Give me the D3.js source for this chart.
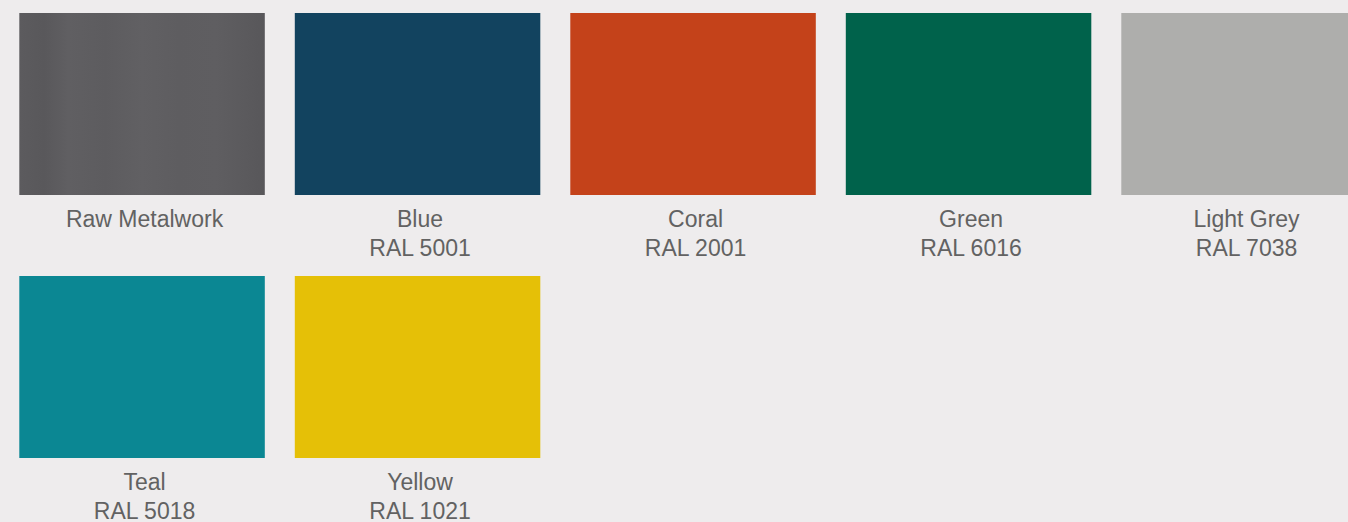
<!DOCTYPE html>
<html>
<head>
<meta charset="utf-8">
<script src="https://cdn.jsdelivr.net/npm/d3@7"></script>
<style>
  html, body { margin: 0; padding: 0; background: #eeeced; overflow: hidden; }
</style>
</head>
<body>
<div id="chart"></div>
<script>
'use strict';

var names = ['Raw Metalwork', 'Blue', 'Coral', 'Green', 'Light Grey', 'Teal', 'Yellow'];
var codes = ['', 'RAL 5001', 'RAL 2001', 'RAL 6016', 'RAL 7038', 'RAL 5018', 'RAL 1021'];
var colours = ['url(#metal)', '#12435f', '#c4421a', '#00624b', '#aeaeac', '#0b8793', '#e5c007'];

var width = 1348, height = 522;
var perRow = 5;

var svg = d3.select('#chart')
    .append('svg')
    .attr('width', width)
    .attr('height', height);

// brushed metal look for the first swatch
var grad = svg.append('defs')
    .append('linearGradient')
    .attr('id', 'metal')
    .attr('x1', '0%').attr('x2', '100%')
    .attr('y1', '0%').attr('y2', '0%');
[[0, '#5c5b5e'], [0.1, '#59585b'], [0.2, '#605f62'], [0.35, '#5d5c5f'],
 [0.5, '#616063'], [0.65, '#5e5d60'], [0.8, '#5f5e61'], [0.92, '#5b5a5d'], [1, '#58575a']]
    .forEach(function (s) {
        grad.append('stop').attr('offset', s[0]).attr('stop-color', s[1]);
    });

var x = d3.scaleLinear().domain([0, 1]).range([19.3, 294.8]);
var y = d3.scaleLinear().domain([0, 1]).range([13, 276]);
var swW = 245.5, swH = 182;

var cells = svg.selectAll('.cell')
    .data(names.map(function (n, i) { return { name: n, code: codes[i], colour: colours[i], i: i }; }))
    .enter()
    .append('g')
    .attr('class', 'cell')
    .attr('transform', function (d) {
        return 'translate(' + x(d.i % perRow) + ',' + y(Math.floor(d.i / perRow)) + ')';
    });

cells.append('rect')
    .attr('width', swW)
    .attr('height', swH)
    .style('fill', function (d) { return d.colour; });

var label = cells.append('text')
    .attr('text-anchor', 'middle')
    .style('font-family', '"Liberation Sans", Arial, sans-serif')
    .style('font-size', '23px')
    .style('fill', '#626262');

label.append('tspan')
    .attr('x', swW / 2 + 2.5)
    .attr('y', 214)
    .text(function (d) { return d.name; });

label.append('tspan')
    .attr('x', swW / 2 + 2.5)
    .attr('y', 242.5)
    .text(function (d) { return d.code; });
</script>
</body>
</html>
